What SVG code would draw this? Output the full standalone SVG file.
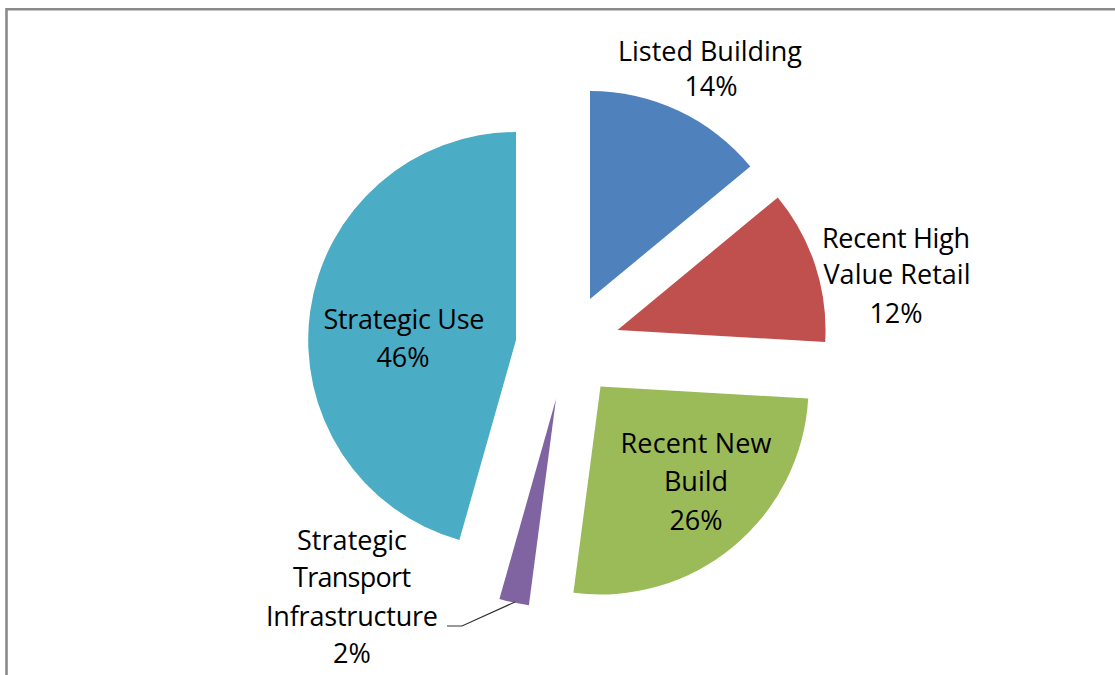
<svg xmlns="http://www.w3.org/2000/svg" width="1115" height="675" viewBox="0 0 1115 675">
<style>
.lbl{font-family:"Open Sans","Noto Sans","Liberation Sans",sans-serif;font-size:27px;fill:#000;text-anchor:middle}
.frame{fill:none;stroke:#8a8a8a;stroke-width:2.6}
.lead{fill:none;stroke:#333;stroke-width:1.2}
</style>
<rect width="1115" height="675" fill="#fff"/>
<path class="frame" d="M6.5,680 L6.5,9.3 L1120,9.3"/>
<g id="slice-listed-building">
<path d="M590,299 L590,91 A208,208 0 0 1 750.3,166.4 Z" fill="#4F81BD"/>
<text class="lbl" x="710" y="61" textLength="184" lengthAdjust="spacing">Listed Building</text>
<text class="lbl" x="711" y="96">14%</text>
</g>
<g id="slice-recent-high-value-retail">
<path d="M617.5,330 L777.8,197.4 A208,208 0 0 1 825.2,342 Z" fill="#C0504D"/>
<text class="lbl" x="896" y="248" textLength="148" lengthAdjust="spacing">Recent High</text>
<text class="lbl" x="897" y="284" textLength="147" lengthAdjust="spacing">Value Retail</text>
<text class="lbl" x="896" y="323">12%</text>
</g>
<g id="slice-recent-new-build">
<path d="M600.5,386.5 L808.2,398.5 A208,208 0 0 1 573.4,592.7 Z" fill="#9BBB59"/>
<text class="lbl" x="696" y="453" textLength="151" lengthAdjust="spacing">Recent New</text>
<text class="lbl" x="696" y="491">Build</text>
<text class="lbl" x="696" y="530">26%</text>
</g>
<g id="slice-strategic-transport-infrastructure">
<path d="M556,399 L528.9,605.2 A208,208 0 0 1 499.4,599.1 Z" fill="#8064A2"/>
<text class="lbl" x="352" y="550" textLength="110" lengthAdjust="spacing">Strategic</text>
<text class="lbl" x="352" y="587" textLength="118" lengthAdjust="spacing">Transport</text>
<text class="lbl" x="352" y="626" textLength="172" lengthAdjust="spacing">Infrastructure</text>
<text class="lbl" x="352" y="663">2%</text>
</g>
<g id="slice-strategic-use">
<path d="M516,340 L459.4,540.1 A208,208 0 0 1 516,132 Z" fill="#4BACC6"/>
<text class="lbl" x="404" y="329" textLength="161" lengthAdjust="spacing">Strategic Use</text>
<text class="lbl" x="403" y="367">46%</text>
</g>
<g id="connectors">
<path class="lead" d="M447,626 L462,626 L515,602"/>
</g>
</svg>
